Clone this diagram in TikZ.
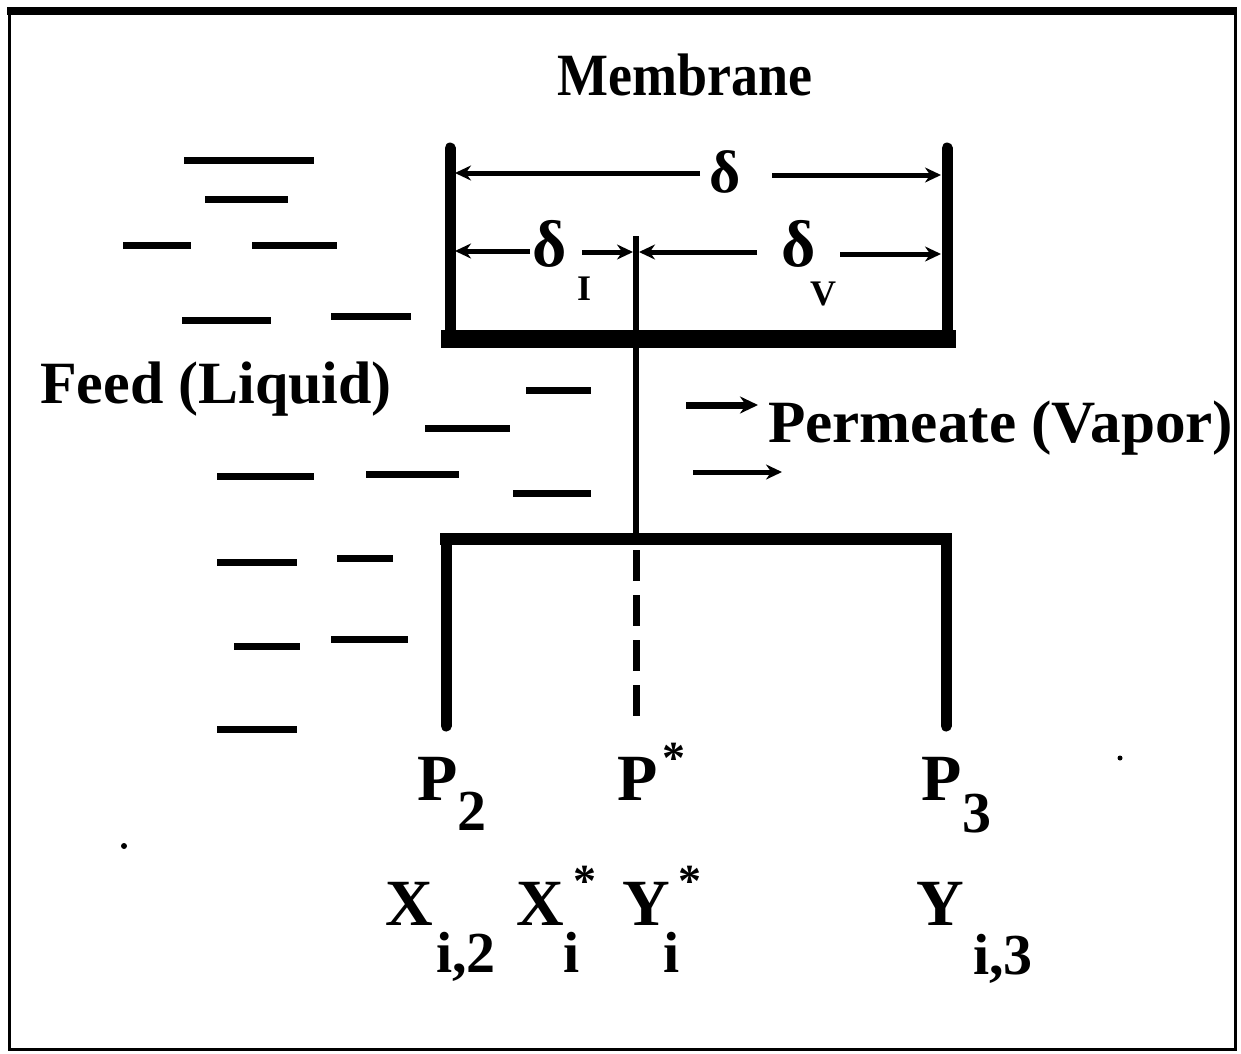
\documentclass[tikz,border=0pt]{standalone}
\usepackage{fontspec}
\setmainfont{Liberation Serif}
\usetikzlibrary{arrows.meta,positioning}
\tikzset{
  wall/.style={line width=11pt, line cap=round},
  drop/.style={line width=7pt},
  dim arrow/.style={line width=5pt, -{Stealth[length=16pt,width=15pt]}},
  flow arrow/.style={line width=7pt, -{Stealth[length=18pt,width=17pt]}},
  big label/.style={font=\fontsize{60}{66}\selectfont\bfseries, inner sep=0pt},
  sym label/.style={font=\fontsize{66}{70}\selectfont\bfseries, inner sep=0pt, anchor=base},
  sub label/.style={font=\fontsize{58}{62}\selectfont\bfseries, inner sep=0pt, anchor=base},
  star label/.style={font=\fontsize{46}{50}\selectfont\bfseries, inner sep=0pt, anchor=north},
  tiny sub/.style={font=\fontsize{36}{40}\selectfont\bfseries, inner sep=0pt, anchor=base}
}

\begin{document}
\begin{tikzpicture}[x=1pt, y=-1pt]
\useasboundingbox (0,0) rectangle (1241,1053);

% frame
\draw[line width=3pt] (9,11) rectangle (1235,1049);
\draw[line width=8pt] (7,11) -- (1237,11);

% titles
\node[big label, xscale=0.9] (membrane) at (685,75) {Membrane};
\node[big label, anchor=base west] (feed) at (40,403) {Feed (Liquid)};
\node[big label, anchor=base west, xscale=1.02] (perm) at (768,442) {Permeate (Vapor)};

% upper membrane box
\coordinate (ul) at (450,148);
\coordinate (ur) at (947,148);
\coordinate (ulb) at (450,339);
\coordinate (urb) at (947,339);
\draw[wall] (ul) -- (ulb);
\draw[wall] (ur) -- (urb);
\draw[line width=18pt] (441,339) -- (956,339);

% lower bracket
\coordinate (ll) at (446,539);
\coordinate (lr) at (946,539);
\coordinate (llb) at (446,726);
\coordinate (lrb) at (946,726);
\draw[line width=12pt] (440,539) -- (952,539);
\draw[wall] (ll) -- (llb);
\draw[wall] (lr) -- (lrb);

% interface line
\coordinate (ct) at (636,236);
\coordinate (cm) at (636,539);
\coordinate (cb) at (636,718);
\draw[line width=6pt] (ct) -- (cm);
\draw[line width=7pt, dash pattern=on 31pt off 14pt] (636,550) -- (cb);

% thickness labels
\node[big label, anchor=base] (dtop) at (725,192) {δ};
\node[sym label] (dl) at (550,266) {δ};
\node[tiny sub] (dlsub) at (584,300) {I};
\node[sym label] (dv) at (799,266) {δ};
\node[tiny sub] (dvsub) at (823,305) {V};

\coordinate (a1) at (700,173);
\coordinate (a2) at (772,175);
\coordinate (b1) at (530,251);
\coordinate (b2) at (582,252);
\coordinate (b3) at (757,252);
\coordinate (b4) at (840,254);
\draw[dim arrow] (a1) -- (455,173);
\draw[dim arrow] (a2) -- (941,175);
\draw[dim arrow] (b1) -- (455,251);
\draw[dim arrow] (b2) -- (633,252);
\draw[dim arrow] (b3) -- (639,252);
\draw[dim arrow] (b4) -- (941,254);

% liquid side
\foreach \xa/\xb/\yy in {184/314/160, 205/288/199, 123/191/245, 252/337/245,
    182/271/320, 331/411/316, 526/591/390, 425/510/428,
    217/314/476, 366/459/474, 513/591/493, 217/297/562, 337/393/558,
    234/300/646, 331/408/639, 217/297/729}
  \draw[drop] (\xa,\yy) -- (\xb,\yy);

% vapour side
\coordinate (f1) at (686,405);
\coordinate (f2) at (693,472);
\draw[flow arrow] (f1) -- (758,405);
\draw[dim arrow] (f2) -- (782,472);

% pressures
\node[sym label] (p2) at (438,800) {P};
\node[sub label] (p2sub) at (472,830) {2};
\node[sym label] (ps) at (638,800) {P};
\node[star label] (pssup) at (674,743) {*};
\node[sym label] (p3) at (942,800) {P};
\node[sub label] (p3sub) at (977,832) {3};

% compositions
\node[sym label] (x2) at (409,925) {X};
\node[sub label] (x2sub) at (466,972) {i,2};
\node[sym label] (xs) at (540,925) {X};
\node[star label] (xssup) at (585,866) {*};
\node[sub label] (xssub) at (572,972) {i};
\node[sym label] (ys) at (646,925) {Y};
\node[star label] (yssup) at (690,866) {*};
\node[sub label] (yssub) at (672,972) {i};
\node[sym label] (y3) at (940,925) {Y};
\node[sub label] (y3sub) at (1003,974) {i,3};

% specks
\fill (124,846) circle (3);
\fill (1120,758) circle (2.5);

\end{tikzpicture}
\end{document}
